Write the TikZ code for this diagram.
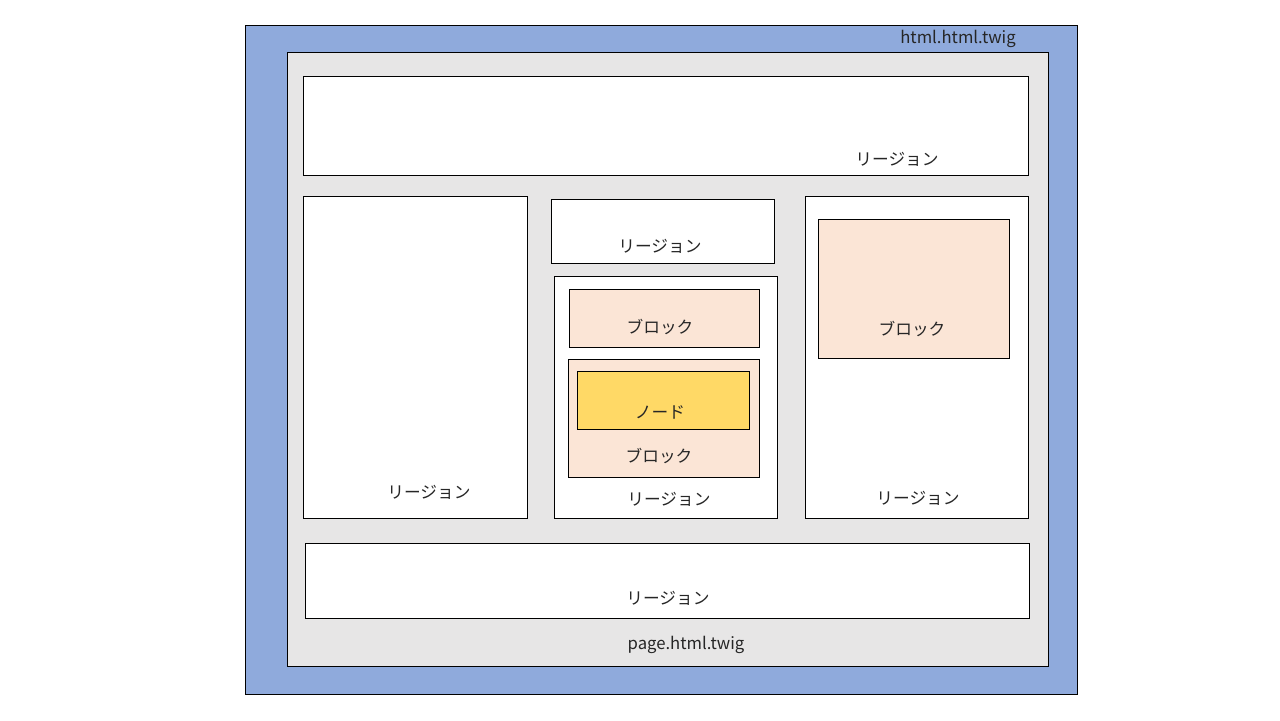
\documentclass[tikz,border=0pt]{standalone}
\usepackage{fontspec}
\setmainfont{Noto Sans CJK JP}
\usetikzlibrary{fit}
\definecolor{htmlblue}{HTML}{8FAADC}
\definecolor{pagegray}{HTML}{E7E6E6}
\definecolor{blockpeach}{HTML}{FBE5D6}
\definecolor{nodeyellow}{HTML}{FFD966}
\definecolor{labelink}{HTML}{262626}

\begin{document}
\begin{tikzpicture}[x=0.02cm,y=-0.02cm,font=\fontsize{9.5}{11}\selectfont,text=labelink,
 frame/.style={draw=black,line width=.45pt,inner sep=0pt},
 region/.style={frame,fill=white},
 block/.style={frame,fill=blockpeach},
 drupalnode/.style={frame,fill=nodeyellow},
 lab/.style={inner sep=0pt}]
\useasboundingbox (0,0) rectangle (1280,720);
% templates
\node[frame,fill=htmlblue,fit={(245,25) (1077,694)}] (html) {};
\node[lab] (htmllab) at (958,39) {html.html.twig};
\node[frame,fill=pagegray,fit={(287,52) (1048,666)}] (page) {};
\node[lab] (pagelab) at (686,645) {page.html.twig};
% regions
\node[region,fit={(303,76) (1028,175)}] (header) {};
\node[lab] (headerlab) at (897,159) {リージョン};
\node[region,fit={(303,196) (527,518)}] (leftside) {};
\node[lab] (leftsidelab) at (429,492) {リージョン};
\node[region,fit={(551,199) (774,263)}] (highlight) {};
\node[lab] (highlightlab) at (660,246) {リージョン};
\node[region,fit={(554,276) (777,518)}] (content) {};
\node[lab] (contentlab) at (669,499) {リージョン};
\node[region,fit={(805,196) (1028,518)}] (rightside) {};
\node[lab] (rightsidelab) at (918,498) {リージョン};
\node[region,fit={(305,543) (1029,618)}] (footer) {};
\node[lab] (footerlab) at (668,598) {リージョン};
% blocks
\node[block,fit={(569,289) (759,347)}] (blockone) {};
\node[lab] (blockonelab) at (660,327) {ブロック};
\node[block,fit={(568,359) (759,477)}] (blocktwo) {};
\node[lab] (blocktwolab) at (659,456) {ブロック};
\node[drupalnode,fit={(577,371) (749,429)}] (article) {};
\node[lab] (articlelab) at (660,412) {ノード};
\node[block,fit={(818,219) (1009,358)}] (blockthree) {};
\node[lab] (blockthreelab) at (912,329) {ブロック};
\end{tikzpicture}
\end{document}
